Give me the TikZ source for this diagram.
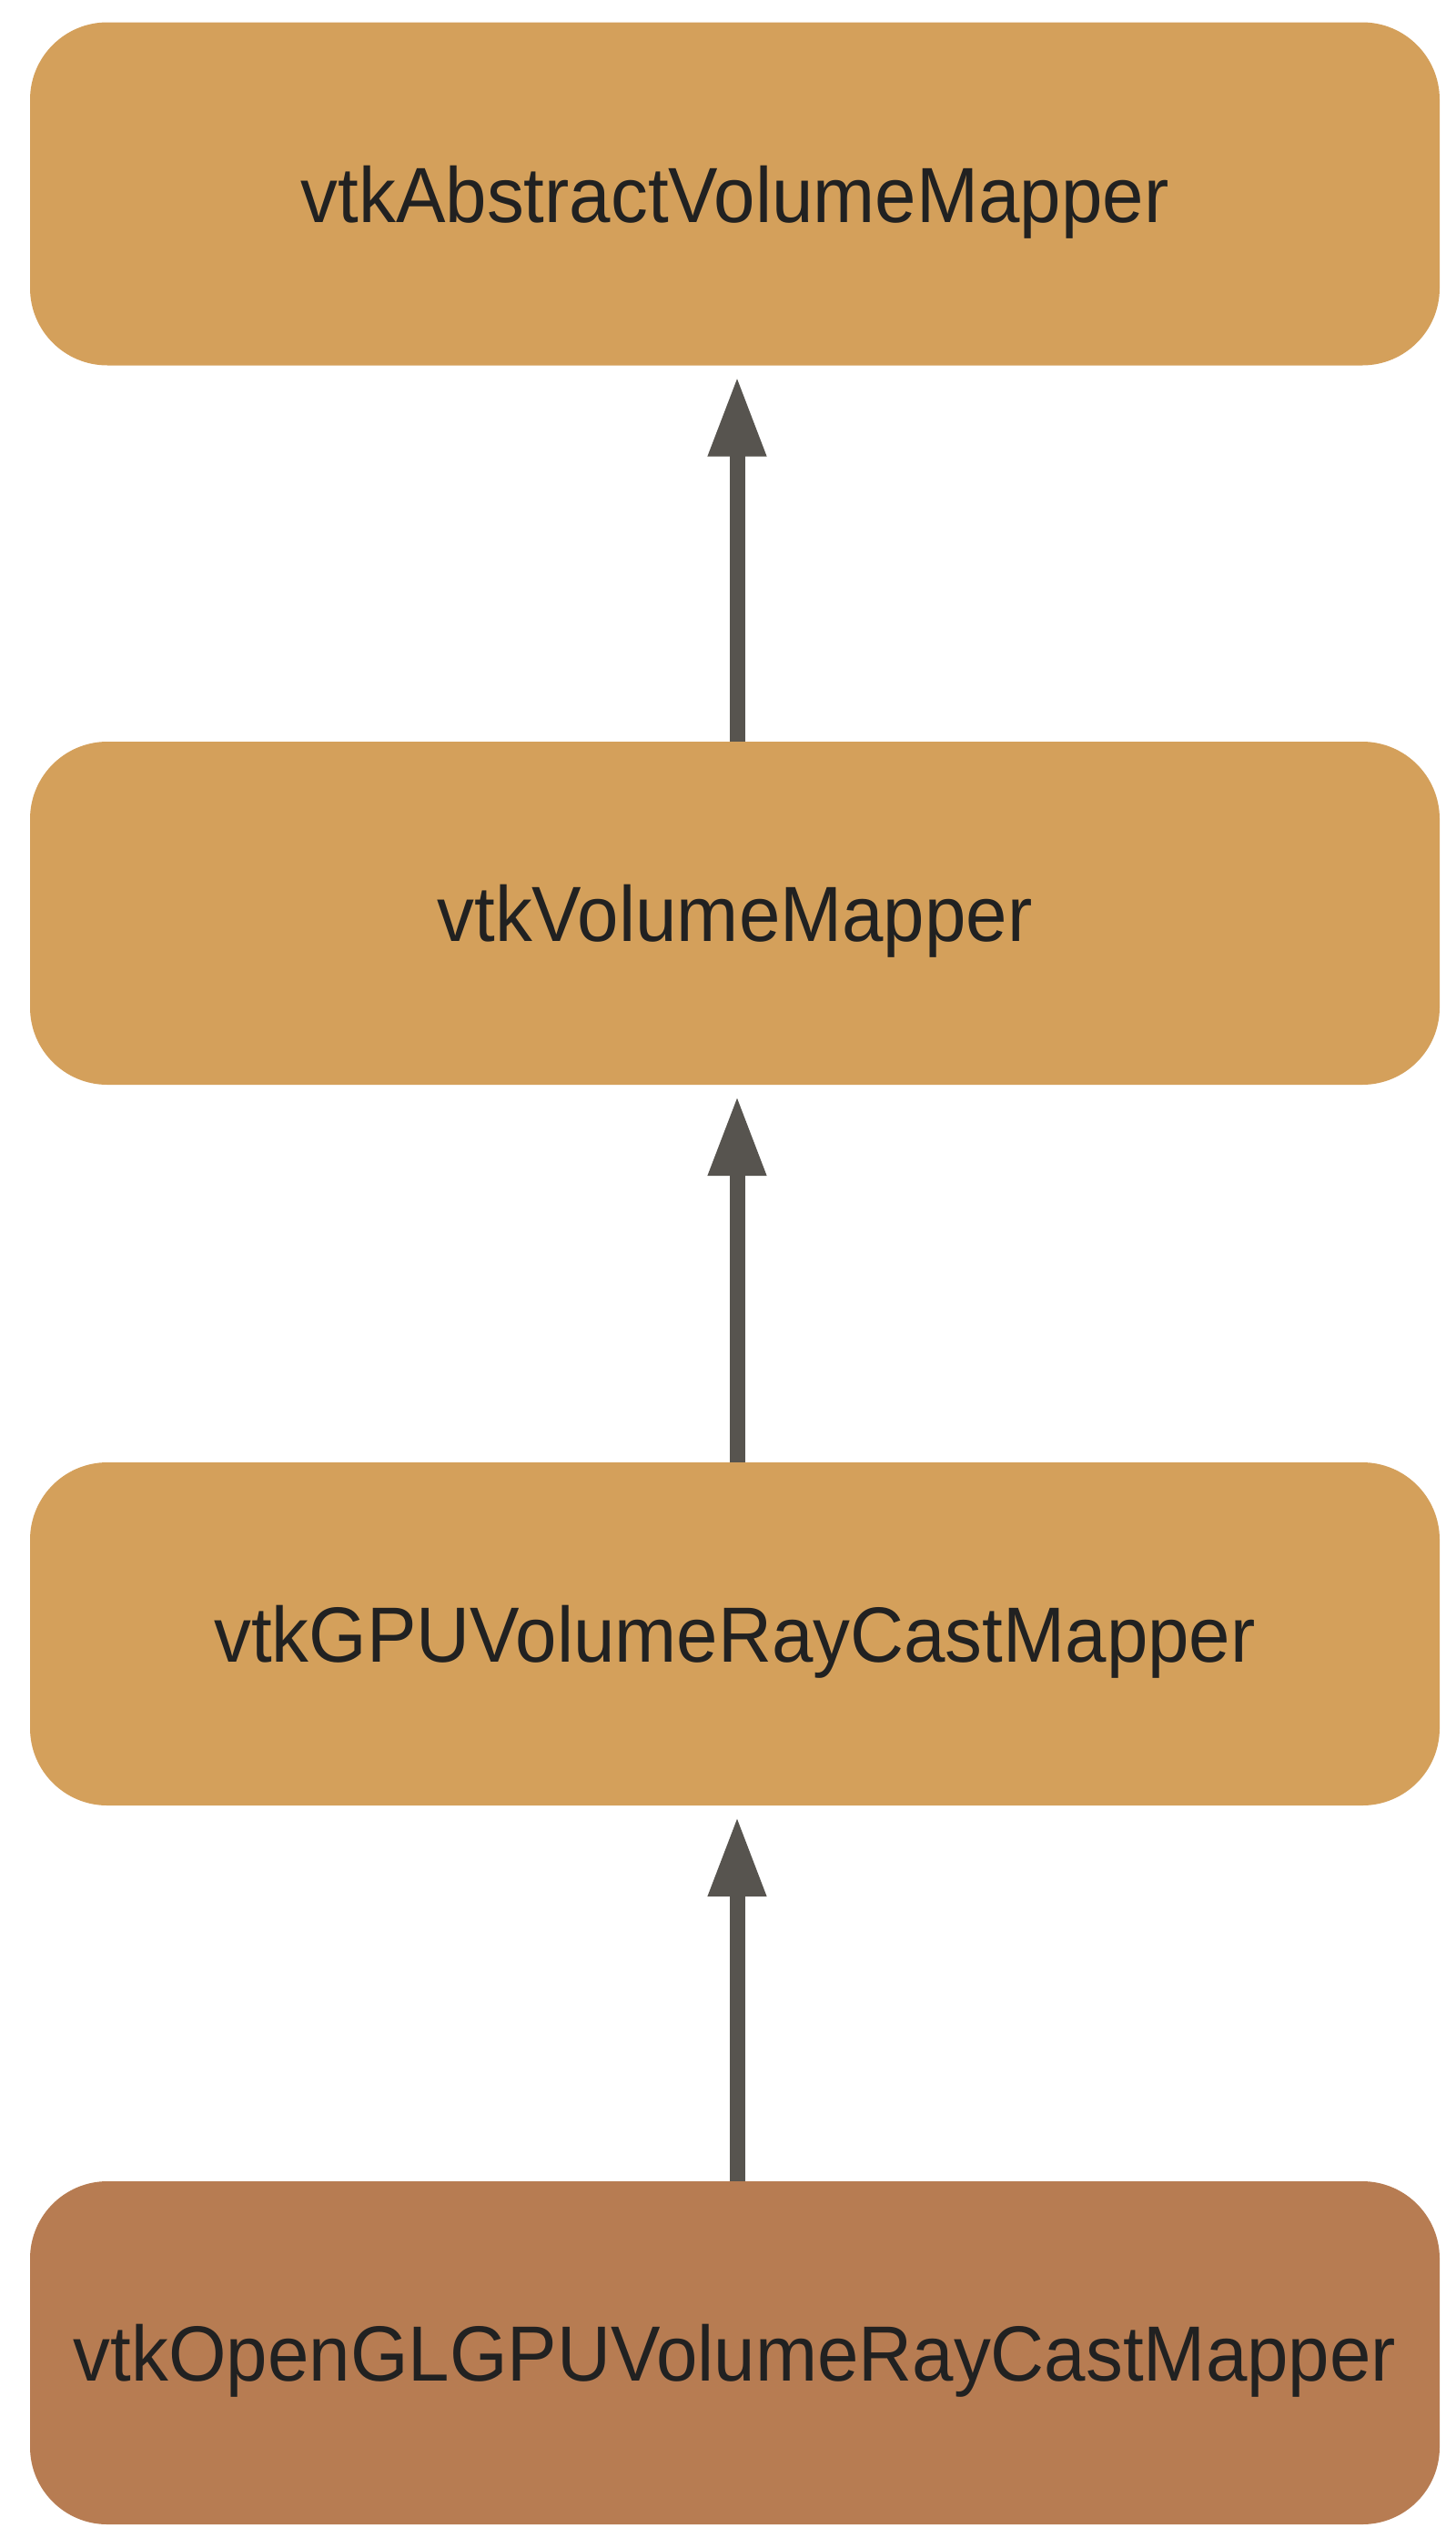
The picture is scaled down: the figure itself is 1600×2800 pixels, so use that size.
\documentclass[tikz,border=0pt]{standalone}
\usepackage{fontspec}
\setmainfont[FakeStretch=0.95]{Liberation Sans}
\usetikzlibrary{arrows.meta}
\definecolor{boxA}{HTML}{D4A05B}
\definecolor{boxB}{HTML}{B77C52}
\definecolor{txt}{HTML}{212121}
\definecolor{arr}{HTML}{57544F}
\begin{document}
\begin{tikzpicture}[x=1pt,y=-1pt,
  cls/.style={rectangle, fill=boxA, rounded corners=85pt, minimum width=1549pt, minimum height=377pt,
    inner sep=0pt, text=txt, font=\fontsize{86}{100}\selectfont, text height=62pt, text depth=0pt},
  inh/.style={draw=arr, line width=17pt, -{Triangle[length=88pt 0 0,width=60pt 0 0]}, shorten >=12pt}]
\useasboundingbox (0,0) rectangle (1600,2800);
\node[cls] (a) at (807.5,213) {vtkAbstractVolumeMapper};
\node[cls] (b) at (807.5,1003.5) {vtkVolumeMapper};
\node[cls] (c) at (807.5,1795.5) {vtkGPUVolumeRayCastMapper};
\node[cls, fill=boxB] (d) at (807.5,2585.5) {vtkOpenGLGPUVolumeRayCastMapper};
\draw[inh] (b.north -| 810,0) -- (a.south -| 810,0);
\draw[inh] (c.north -| 810,0) -- (b.south -| 810,0);
\draw[inh] (d.north -| 810,0) -- (c.south -| 810,0);
\end{tikzpicture}
\end{document}
